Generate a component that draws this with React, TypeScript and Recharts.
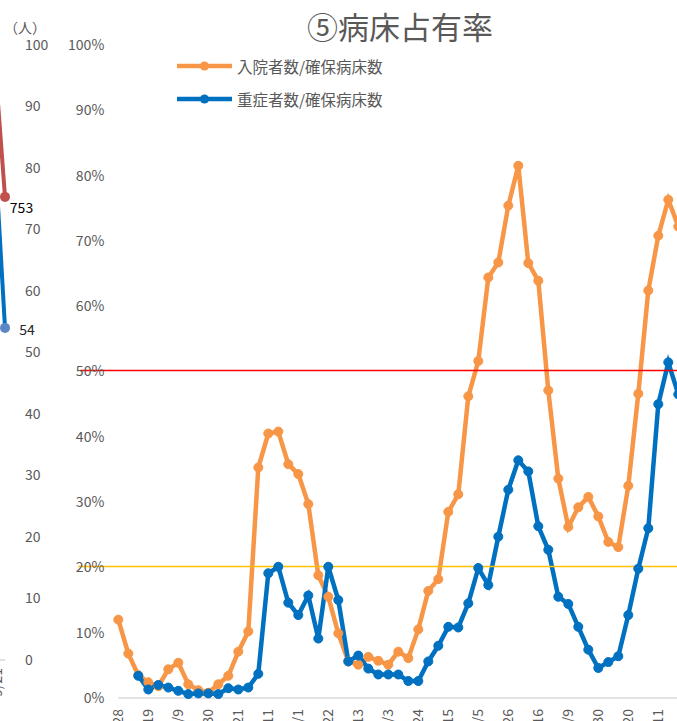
import React from 'react';
import { LineChart, Line, XAxis, YAxis, ReferenceLine, Legend, LabelList } from 'recharts';

const FONT = "'Noto Sans CJK JP', 'Noto Sans', sans-serif";
const GRAY = '#595959';

// weekly dates on the category axis (every 3rd one is labelled)
const dates = [
  '9/28', '10/5', '10/12', '10/19', '10/26', '11/2', '11/9', '11/16', '11/23', '11/30',
  '12/7', '12/14', '12/21', '12/28', '1/4', '1/11', '1/18', '1/25', '2/1', '2/8',
  '2/15', '2/22', '3/1', '3/6', '3/13', '3/20', '3/27', '4/3', '4/10', '4/17',
  '4/24', '5/1', '5/8', '5/15', '5/22', '5/29', '6/5', '6/12', '6/19', '6/26',
  '7/3', '7/10', '7/16', '7/23', '7/30', '8/9', '8/16', '8/23', '8/30', '9/6',
  '9/13', '9/20', '9/27', '10/4', '10/11', '10/18', '10/25',
];

// 入院者数/確保病床数 (%)
const inpatientRate = [
  12.0, 6.8, 3.5, 2.4, 1.8, 4.4, 5.4, 2.1, 1.2, 0.8,
  2.1, 3.4, 7.1, 10.2, 35.3, 40.5, 40.8, 35.8, 34.3, 29.7,
  18.8, 15.5, 9.9, 5.6, 5.1, 6.3, 5.7, 5.1, 7.1, 6.1,
  10.5, 16.4, 18.2, 28.5, 31.2, 46.2, 51.6, 64.4, 66.7, 75.4,
  81.5, 66.6, 63.9, 47.1, 33.6, 26.2, 29.2, 30.8, 27.8, 23.9,
  23.1, 32.5, 46.6, 62.4, 70.8, 76.3, 72.2,
];

// 重症者数/確保病床数 (%)
const severeRate = [
  null, null, 3.4, 1.3, 2.0, 1.6, 1.1, 0.6, 0.7, 0.7,
  0.6, 1.5, 1.3, 1.6, 3.7, 19.1, 20.1, 14.6, 12.7, 15.7,
  9.1, 20.1, 15.0, 5.6, 6.5, 4.5, 3.6, 3.6, 3.6, 2.6,
  2.6, 5.6, 8.0, 10.9, 10.8, 14.5, 19.9, 17.3, 24.7, 31.9,
  36.4, 34.7, 26.3, 22.7, 15.5, 14.4, 10.9, 7.4, 4.6, 5.5,
  6.4, 12.7, 19.8, 26.0, 45.0, 51.4, 46.5,
];

const percentTicks = [0, 10, 20, 30, 40, 50, 60, 70, 80, 90, 100];
const stage4Rate = 50;
const stage3Rate = 20;

// tail of the previous panel, cut off at the left edge
const prevDates = ['9/21', '9/28'];
const prevPatients = [971, 753];
const prevSevere = [82.4, 54];
const peopleTicks = [0, 10, 20, 30, 40, 50, 60, 70, 80, 90, 100];

const data = dates.map((date, i) => ({ date, inpatient: inpatientRate[i], severe: severeRate[i] }));
const prevData = prevDates.map((date, i) => ({ date, patients: prevPatients[i], severe: prevSevere[i] }));

const DateTick = ({ x, y, payload }: any) => (
  <text x={x} y={y} transform={`rotate(-90, ${x}, ${y})`} textAnchor="end" dy="0.35em"
    fill={GRAY} fontSize={14} fontFamily={FONT}>{payload.value}</text>
);

const PrevTick = ({ x, y, payload }: any) => (
  <text x={x} y={y} transform={`rotate(-90, ${x}, ${y})`} textAnchor="end" dy={7}
    fill={GRAY} fontSize={14} fontFamily={FONT}>{payload.value}</text>
);

const renderLegend = ({ payload }: any) => (
  <div style={{ fontFamily: FONT }}>
    {(payload || []).map((entry: any) => (
      <div key={entry.value} style={{ display: 'flex', alignItems: 'center', height: 33 }}>
        <svg width={60} height={12}>
          <line x1={0} x2={55} y1={6} y2={6} stroke={entry.color} strokeWidth={4.5} />
          <circle cx={27.5} cy={6} r={4.5} fill={entry.color} />
        </svg>
        <span style={{ fontSize: 15.5, color: GRAY, whiteSpace: 'nowrap' }}>{entry.value}</span>
      </div>
    ))}
  </div>
);

const lastDot = (fill: string) => (props: any) =>
  props.index === prevData.length - 1
    ? <circle key={`d${props.index}`} cx={props.cx} cy={props.cy} r={5} fill={fill} />
    : <g key={`d${props.index}`} />;

export default function App() {
  return (
    <div style={{ position: 'absolute', left: 0, top: 0, width: 677, height: 721, overflow: 'hidden', background: '#fff', fontFamily: FONT }}>
      {/* previous panel fragment */}
      <div style={{ position: 'absolute', left: -20, top: 0 }}>
        <LineChart width={85} height={721} data={prevData} margin={{ top: 45, right: 0, left: 15, bottom: 0 }}>
          <XAxis dataKey="date" height={61} ticks={[prevDates[0]]} tick={<PrevTick />} tickLine={false} axisLine={false} tickSize={0} tickMargin={8} />
          <YAxis yAxisId="count" hide domain={[0, 1000]} />
          <YAxis yAxisId="people" orientation="right" width={60} domain={[0, 100]} ticks={peopleTicks}
            tickLine={false} axisLine={false} tickSize={0} tickMargin={20}
            tick={{ fill: GRAY, fontSize: 14, fontFamily: FONT }} />
          <ReferenceLine yAxisId="people" y={0} shape={(p: any) => (
            <line x1={p.x1} x2={p.x2 + 4} y1={p.y1} y2={p.y1} stroke="#D9D9D9" strokeWidth={1.5} />
          )} />
          <Line yAxisId="count" dataKey="patients" stroke="#C0504D" strokeWidth={4} dot={lastDot('#C0504D')} activeDot={false} isAnimationActive={false}>
            <LabelList dataKey="patients" content={(p: any) => p.index === prevData.length - 1 ? (
              <text x={p.x + 16.5} y={p.y + 10} textAnchor="middle" dominantBaseline="central" fontSize={14} fill="#000" fontFamily={FONT}>{p.value}</text>
            ) : null} />
          </Line>
          <Line yAxisId="people" dataKey="severe" stroke="#0070C0" strokeWidth={4} dot={lastDot('#5B87C7')} activeDot={false} isAnimationActive={false}>
            <LabelList dataKey="severe" content={(p: any) => p.index === prevData.length - 1 ? (
              <text x={p.x + 22} y={p.y + 1} textAnchor="middle" dominantBaseline="central" fontSize={14} fill="#262626" fontFamily={FONT}>{p.value}</text>
            ) : null} />
          </Line>
        </LineChart>
      </div>
      <div style={{ position: 'absolute', left: 4, top: 19, fontSize: 14, lineHeight: '16px', color: GRAY }}>（人）</div>

      {/* main chart */}
      <div style={{ position: 'absolute', left: 0, top: 0 }}>
        <LineChart width={700} height={721} data={data} margin={{ top: 45, right: 21.7, left: 0, bottom: 0 }}>
          <XAxis dataKey="date" height={23} interval={2} tick={<DateTick />} tickLine={false} tickSize={0} tickMargin={11}
            axisLine={{ stroke: '#D9D9D9', strokeWidth: 1.5 }} />
          <YAxis width={118.3} domain={[0, 100]} ticks={percentTicks} tickFormatter={(v: number) => `${v}%`}
            tickLine={false} axisLine={false} tickSize={0} tickMargin={14}
            tick={{ fill: GRAY, fontSize: 14, fontFamily: FONT }} />
          <Legend layout="vertical" align="center" verticalAlign="middle" content={renderLegend}
            wrapperStyle={{ position: 'absolute', left: 177, top: 49.5, width: 260, height: 66 }} />
          <Line name="入院者数/確保病床数" dataKey="inpatient" stroke="#F79646" strokeWidth={4.5}
            dot={{ r: 4.5, fill: '#F79646', stroke: '#F79646', strokeWidth: 1 }} activeDot={false} isAnimationActive={false} />
          <Line name="重症者数/確保病床数" dataKey="severe" stroke="#0070C0" strokeWidth={4.5}
            dot={{ r: 4.5, fill: '#0070C0', stroke: '#0070C0', strokeWidth: 1 }} activeDot={false} isAnimationActive={false} />
          <ReferenceLine y={stage4Rate} shape={(p: any) => (
            <line x1={p.x1 - 38} x2={p.x2} y1={p.y1 - 1} y2={p.y1 - 1} stroke="#FF0000" strokeWidth={1.5} />
          )} />
          <ReferenceLine y={stage3Rate} shape={(p: any) => (
            <line x1={p.x1 - 40} x2={p.x2} y1={p.y1 - 1} y2={p.y1 - 1} stroke="#FFC000" strokeWidth={1.5} />
          )} />
        </LineChart>
      </div>

      <div style={{ position: 'absolute', left: 0, top: 10, width: 800, textAlign: 'center', fontSize: 31, lineHeight: '31px', color: GRAY }}>
        ⑤病床占有率
      </div>
    </div>
  );
}
